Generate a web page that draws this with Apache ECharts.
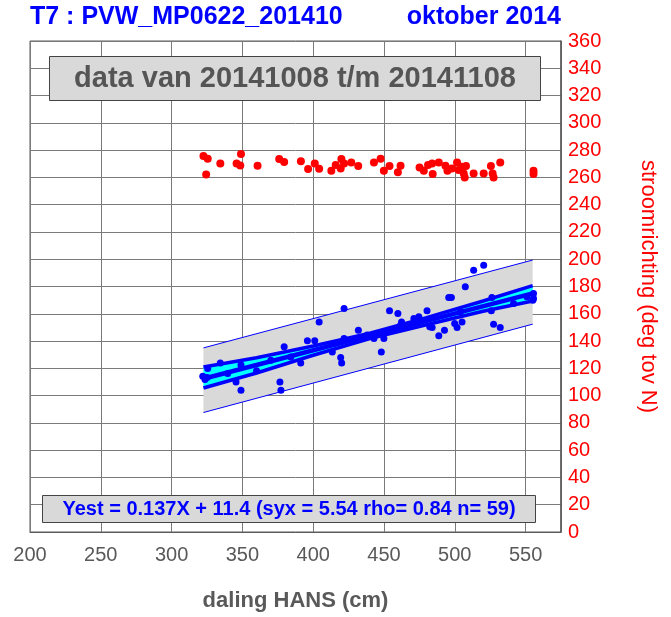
<!DOCTYPE html>
<html>
<head>
<meta charset="utf-8">
<script src="https://cdn.jsdelivr.net/npm/echarts@6/dist/echarts.min.js"></script>
<style>
html,body{margin:0;padding:0;background:#fff;}
#chart{width:671px;height:617px;}
</style>
</head>
<body>
<div id="chart"></div>
<script>
// ---- texts ----
const titleLeft = 'T7 : PVW_MP0622_201410';
const titleRight = 'oktober 2014';
const periodText = 'data van 20141008 t/m 20141108';
const fitText = 'Yest = 0.137X + 11.4 (syx = 5.54 rho= 0.84 n= 59)';
const xName = 'daling HANS (cm)';
const yName = 'stroomrichting (deg tov N)';

// ---- axes ----
const xRange = [200, 575];
const xStep = 50;
const yRange = [0, 360];
const yStep = 20;
const fitRange = [0, 180]; // hidden scale of the fitted quantity

// ---- current direction (red) ----
const dirX = [322.5,325.5,324.4,334.4,345.9,349,348.5,360.7,376,379.5,391.3,396.4,401.1,404.2,412.8,415.9,419.9,419.4,421.8,426.9,431.8,442.9,447.6,449.9,453.9,459.8,461.7,475.1,478.1,481.1,484,484.4,488.7,493.4,494.8,498,501.6,502.7,505.1,506.3,507,507.9,513.3,520.4,525.5,526.7,527.4,532.1,555.6,555.6];
const dirY = [275.6,273.6,262.2,270.2,270.2,277.1,268.8,268.5,273.4,271.2,271.9,266.1,270.2,266.3,264.8,269,273.4,266.6,270.2,271,268.3,271,273.6,264.8,268.3,263.7,268.5,267.3,264.8,269,270.2,262.4,271,268.5,264.8,266.6,271,265.4,267.8,262.9,260,268.3,262.9,262.9,268.3,262.9,260,271,264.8,262.4];

// ---- fitted quantity (blue) ----
const ptX = [325.5,322.0,323.6,325.1,334.4,345.5,349.0,349.0,360.0,376.5,377.2,379.5,391.2,395.9,401.1,404.2,413.5,419.4,420.1,421.8,421.8,431.9,442.9,448.1,449.9,453.9,459.8,462.4,474.6,480.4,482.3,484.0,488.7,492.7,495.7,497.6,499.9,501.6,505.1,507.4,513.3,520.4,526.2,525.8,527.4,532.1,555.6,555.6,555.1,503.9,461.7,471.1,438.2,414.7,370.1,339.6,541.5,550.9,384.2];
const ptY = [59.9,57.1,55.9,56.6,62.0,55.0,52.0,61.2,59.1,55.0,52.0,67.9,62.0,70.1,70.1,77.0,66.0,64.0,62.0,81.9,70.9,74.0,70.9,66.0,70.9,81.1,80.1,77.0,78.9,81.1,75.2,75.0,71.9,74.0,86.0,86.0,76.4,75.0,77.0,89.9,96.0,97.8,86.0,81.1,76.2,75.0,87.4,85.6,85.0,80.7,75.8,78.3,72.2,69.1,63.0,58.1,83.8,86.2,64.2];

// regression line (end points)
const regX = [322.5, 555];
const regY = [56.2, 87.5];
// prediction band
const predX = [322.5, 555];
const predLow = [43.8, 76.2];
const predHigh = [67.5, 99.7];
// confidence band
const ciX = [322.5, 360, 400, 440, 480, 520, 555];
const ciLow = [52.8, 58.3, 64.8, 70.9, 76.0, 80.9, 84.7];
const ciHigh = [60.5, 63.9, 68.2, 72.9, 78.6, 84.7, 90.3];

const FONT = "'Liberation Sans', Arial, Helvetica, sans-serif";
const BLUE = '#0000ff';
const RED = '#ff0000';
const GRAYTXT = '#595959';

const zip = (a, b) => a.map((v, i) => [v, b[i]]);
const band = (xs, lo, hi) => xs.map((v, i) => [v, lo[i], hi[i]]);

// draws a filled band between two curves through the axis scales
function bandRenderer(fill) {
  return function (params, api) {
    if (params.dataIndex !== 0) return null;
    const n = params.dataInsideLength !== undefined ? params.dataInsideLength : 0;
    return null;
  };
}
function makeBand(xs, lo, hi, fill, z) {
  const data = band(xs, lo, hi);
  return {
    type: 'custom', yAxisIndex: 1, z: z, silent: true,
    data: data,
    encode: {x: 0, y: [1, 2]},
    renderItem: function (params, api) {
      if (params.dataIndex !== 0) return null;
      const top = data.map(d => api.coord([d[0], d[2]]));
      const bot = data.map(d => api.coord([d[0], d[1]])).reverse();
      return {
        type: 'polygon',
        shape: {points: top.concat(bot)},
        style: {fill: fill, stroke: 'none'}
      };
    }
  };
}

const chart = echarts.init(document.getElementById('chart'), null, {renderer: 'canvas'});

const option = {
  animation: false,
  backgroundColor: '#ffffff',
  textStyle: {fontFamily: FONT},
  title: [
    {text: titleLeft, left: 30, top: 5, padding: 0,
     textStyle: {color: BLUE, fontSize: 25, fontWeight: 'bold', fontFamily: FONT}},
    {text: titleRight, right: 110, top: 5, padding: 0,
     textStyle: {color: BLUE, fontSize: 25, fontWeight: 'bold', fontFamily: FONT}}
  ],
  grid: {left: 30, right: 110, top: 41, bottom: 85, show: true, borderColor: '#5a5a5a', borderWidth: 1, containLabel: false},
  xAxis: {
    type: 'value', min: xRange[0], max: xRange[1], interval: xStep,
    name: xName, nameLocation: 'middle', nameGap: 58,
    nameTextStyle: {color: GRAYTXT, fontSize: 22, fontWeight: 'bold', fontFamily: FONT},
    axisLine: {show: true, lineStyle: {color: '#5a5a5a', width: 1}},
    axisTick: {show: false},
    axisLabel: {color: GRAYTXT, fontSize: 20, margin: 13, fontFamily: FONT, showMaxLabel: false},
    splitLine: {show: true, lineStyle: {color: '#7a7a7a', width: 1}}
  },
  yAxis: [
    {
      type: 'value', position: 'right', min: yRange[0], max: yRange[1], interval: yStep,
      name: yName, nameLocation: 'middle', nameGap: 76, nameRotate: -90,
      nameTextStyle: {color: RED, fontSize: 22, fontFamily: FONT},
      axisLine: {show: true, lineStyle: {color: '#5a5a5a', width: 1.5}},
      axisTick: {show: false},
      axisLabel: {color: RED, fontSize: 20, margin: 7, fontFamily: FONT},
      splitLine: {show: true, lineStyle: {color: '#7a7a7a', width: 1}}
    },
    {
      type: 'value', position: 'left', min: fitRange[0], max: fitRange[1], show: false,
      splitLine: {show: false}
    }
  ],
  series: [
    makeBand(predX, predLow, predHigh, '#d9d9d9', 2),
    {type: 'line', yAxisIndex: 1, data: zip(predX, predLow), symbol: 'none',
     lineStyle: {color: BLUE, width: 1}, z: 3},
    {type: 'line', yAxisIndex: 1, data: zip(predX, predHigh), symbol: 'none',
     lineStyle: {color: BLUE, width: 1}, z: 3},
    makeBand(ciX, ciLow, ciHigh, '#00ffff', 3),
    {type: 'line', yAxisIndex: 1, data: zip(ciX, ciLow), symbol: 'none',
     lineStyle: {color: BLUE, width: 3.5}, z: 4},
    {type: 'line', yAxisIndex: 1, data: zip(ciX, ciHigh), symbol: 'none',
     lineStyle: {color: BLUE, width: 3.5}, z: 4},
    {type: 'line', yAxisIndex: 1, data: zip(regX, regY), symbol: 'none',
     lineStyle: {color: BLUE, width: 4.5}, z: 5},
    {type: 'scatter', yAxisIndex: 1, data: zip(ptX, ptY), symbol: 'circle', symbolSize: 7,
     itemStyle: {color: BLUE, opacity: 1}, z: 6},
    {type: 'scatter', yAxisIndex: 0, data: zip(dirX, dirY), symbol: 'circle', symbolSize: 8,
     itemStyle: {color: RED, opacity: 1}, z: 6}
  ],
  graphic: [
    {type: 'rect', z: 100, shape: {x: 49.5, y: 56.5, width: 491, height: 44},
     style: {fill: '#d9d9d9', stroke: '#444444', lineWidth: 1}},
    {type: 'text', z: 101, x: 295, y: 79,
     style: {text: periodText, align: 'center', verticalAlign: 'middle', fill: '#555555',
             fontSize: 29, fontWeight: 'bold', fontFamily: FONT}},
    {type: 'rect', z: 100, shape: {x: 42.5, y: 495.5, width: 493, height: 27},
     style: {fill: '#d9d9d9', stroke: '#444444', lineWidth: 1}},
    {type: 'text', z: 101, x: 289, y: 509.5,
     style: {text: fitText, align: 'center', verticalAlign: 'middle', fill: BLUE,
             fontSize: 20, fontWeight: 'bold', fontFamily: FONT}}
  ]
};
chart.setOption(option);
</script>
</body>
</html>
